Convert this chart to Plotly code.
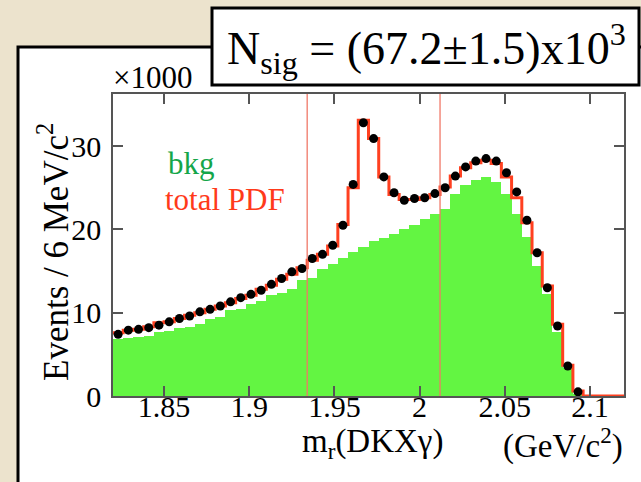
import plotly.graph_objects as go

# ---- data ----
bin_low = 1.82
bin_width = 0.006
n_bins = 50

data_counts = [7.4, 7.9, 8.0, 8.2, 8.5, 8.9, 9.3, 9.6, 10.1, 10.4,
               10.8, 11.3, 11.8, 12.2, 12.7, 13.4, 14.1, 14.9, 15.3, 16.5,
               17.0, 18.1, 20.5, 25.4, 32.8, 30.9, 26.3, 24.4, 23.5, 23.7,
               23.8, 24.3, 25.0, 26.4, 27.5, 28.2, 28.5, 28.2, 26.8, 24.5,
               21.1, 17.2, 13.0, 8.4, 3.6, 0.5]

total_pdf = [7.6, 7.9, 8.0, 8.3, 8.8, 8.9, 9.3, 9.7, 10.0, 10.4,
             10.8, 11.2, 11.7, 12.1, 12.8, 13.3, 14.0, 14.6, 15.4, 16.3,
             17.0, 18.0, 20.6, 25.0, 33.1, 30.9, 26.3, 24.2, 23.6, 23.6,
             23.8, 24.2, 25.1, 26.4, 27.4, 28.0, 28.3, 27.9, 26.3, 23.8,
             20.8, 17.2, 13.2, 8.6, 3.7, 0.6, 0.0, 0.0, 0.0, 0.0]

bkg = [6.8, 7.0, 7.1, 7.2, 7.7, 7.8, 8.2, 8.3, 8.7, 9.3,
       9.5, 10.3, 10.5, 11.0, 11.4, 12.1, 12.4, 12.9, 13.9, 14.2,
       15.3, 15.8, 16.6, 17.3, 17.9, 18.6, 19.0, 19.4, 20.0, 20.5,
       21.3, 21.9, 22.5, 24.2, 25.3, 25.9, 26.3, 25.7, 24.3, 21.8,
       19.1, 15.6, 12.2, 7.7, 3.4, 0.3, 0.0, 0.0, 0.0, 0.0]

signal_window = [1.934, 2.012]
x_ticks = [1.85, 1.9, 1.95, 2.0, 2.05, 2.1]
x_tick_labels = ["1.85", "1.9", "1.95", "2", "2.05", "2.1"]
y_ticks = [0, 10, 20, 30]
y_tick_labels = ["0", "10", "20", "30"]

# ---- derived bin geometry ----
edges = [bin_low + bin_width * i for i in range(n_bins + 1)]
centers = [bin_low + bin_width * (i + 0.5) for i in range(n_bins)]

# ---- figure geometry (pixels) ----
W, H = 641, 482
L, R, T, B = 113, 624, 94, 396


def px(x):
    return (x - L) / (R - L)


def py(y):
    return (B - y) / (B - T)


SERIF = "Liberation Serif, Times New Roman, serif"

fig = go.Figure()

fig.add_trace(go.Bar(
    x=centers[:len(bkg)], y=bkg, width=bin_width,
    marker=dict(color="#63f542", line=dict(width=0)),
    hoverinfo="skip", showlegend=False,
))

step_x = edges
step_y = total_pdf + [total_pdf[-1]]
fig.add_trace(go.Scatter(
    x=step_x, y=step_y, mode="lines", line=dict(shape="hv", color="#ff4020", width=3),
    showlegend=False, hoverinfo="skip",
))

fig.add_trace(go.Scatter(
    x=centers[:len(data_counts)], y=data_counts, mode="markers",
    marker=dict(color="black", size=9),
    showlegend=False,
))

for xv in signal_window:
    fig.add_shape(type="line", xref="x", yref="paper", x0=xv, x1=xv, y0=0, y1=1,
                  line=dict(color="#f07868", width=1.3), layer="above")

# white canvas with black border (left/top visible)
fig.add_shape(type="rect", xref="paper", yref="paper",
              x0=px(18), x1=px(660), y0=py(500), y1=py(47),
              fillcolor="white", line=dict(color="black", width=3), layer="below")

# N_sig box
fig.add_shape(type="rect", xref="paper", yref="paper",
              x0=px(212), x1=px(639), y0=py(85), y1=py(8),
              fillcolor="white", line=dict(color="black", width=3), layer="above")

fig.add_annotation(xref="paper", yref="paper", x=px(426), y=py(48),
                   text="N<sub>sig</sub> = (67.2±1.5)x10<sup>3</sup>",
                   showarrow=False, font=dict(family=SERIF, size=46, color="black"),
                   xanchor="center", yanchor="middle")

fig.add_annotation(xref="paper", yref="paper", x=px(111), y=py(97),
                   text="×1000", showarrow=False,
                   font=dict(family=SERIF, size=31, color="black"),
                   xanchor="left", yanchor="bottom")

fig.add_annotation(xref="paper", yref="paper", x=px(166), y=py(183),
                   text="bkg", showarrow=False,
                   font=dict(family=SERIF, size=31, color="#14a64a"),
                   xanchor="left", yanchor="bottom")
fig.add_annotation(xref="paper", yref="paper", x=px(163), y=py(219),
                   text="total PDF", showarrow=False,
                   font=dict(family=SERIF, size=31, color="#ff3a1a"),
                   xanchor="left", yanchor="bottom")

fig.add_annotation(xref="paper", yref="paper", x=px(53), y=py(252),
                   text="Events / 6 MeV/c<sup>2</sup>", textangle=-90, showarrow=False,
                   font=dict(family=SERIF, size=35, color="black"),
                   xanchor="center", yanchor="middle")

fig.add_annotation(xref="paper", yref="paper", x=px(372), y=py(443),
                   text="m<sub>r</sub>(DKXγ)", showarrow=False,
                   font=dict(family=SERIF, size=33, color="black"),
                   xanchor="center", yanchor="middle")
fig.add_annotation(xref="paper", yref="paper", x=px(563), y=py(443),
                   text="(GeV/c<sup>2</sup>)", showarrow=False,
                   font=dict(family=SERIF, size=33, color="black"),
                   xanchor="center", yanchor="middle")

axis_common = dict(
    showline=True, linecolor="#555555", linewidth=1.5, mirror="ticks",
    ticks="inside", ticklen=10, tickwidth=1.5, tickcolor="#555555",
    showgrid=False, zeroline=False,
    tickfont=dict(family=SERIF, size=30, color="black"),
)

fig.update_xaxes(range=[edges[0], edges[-1]], tickvals=x_ticks, ticktext=x_tick_labels,
                 ticklabelstandoff=-17, **axis_common)
fig.update_yaxes(range=[0, 36.25], tickvals=y_ticks, ticktext=y_tick_labels,
                 ticklabelstandoff=4, **axis_common)

fig.update_layout(
    width=W, height=H,
    margin=dict(l=L, r=W - R, t=T, b=H - B, pad=0),
    paper_bgcolor="#ece3cd", plot_bgcolor="white",
    bargap=0, showlegend=False,
)

fig.write_html("out.html")
